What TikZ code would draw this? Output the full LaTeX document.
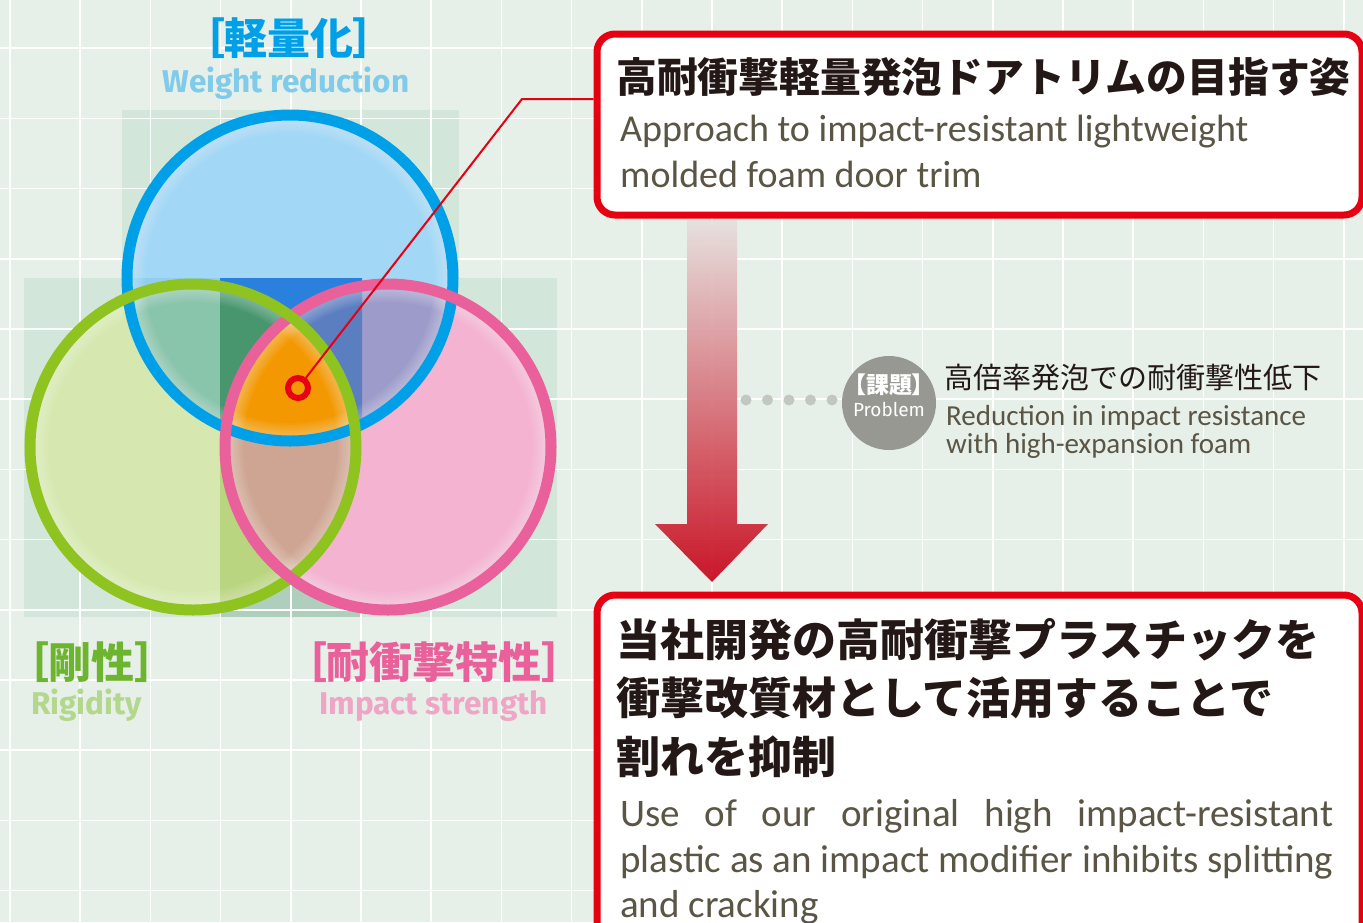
\documentclass[tikz,border=0pt]{standalone}
\usepackage{fontspec}
\usetikzlibrary{positioning}
\newfontfamily\jpfont{Noto Sans CJK JP}
\newfontfamily\jplabel{Noto Sans CJK JP}[RawFeature=+palt]
\newfontfamily\enbold{Fira Sans}
\newfontfamily\enlight{Carlito}

\definecolor{bgcol}{HTML}{E6F0E8}
\definecolor{boxcol}{HTML}{D3E6DA}
\definecolor{stripcol}{HTML}{AFCEBB}
\definecolor{blueA}{HTML}{A2D8F5}
\definecolor{blueB}{HTML}{90CEF0}
\definecolor{blueC}{HTML}{2A80DD}
\definecolor{greenA}{HTML}{D6E8B0}
\definecolor{greenB}{HTML}{B9D57F}
\definecolor{pinkA}{HTML}{F4B4D1}
\definecolor{tealA}{HTML}{88C5AA}
\definecolor{tealB}{HTML}{47966E}
\definecolor{violetA}{HTML}{9D9BCA}
\definecolor{violetB}{HTML}{5B7EC1}
\definecolor{brownA}{HTML}{CEA592}
\definecolor{orangeA}{HTML}{F39800}
\definecolor{ringblue}{HTML}{00A0E9}
\definecolor{ringgreen}{HTML}{8FC31F}
\definecolor{ringpink}{HTML}{E9609B}
\definecolor{markred}{HTML}{E60012}
\definecolor{txtdark}{HTML}{231815}
\definecolor{txtgray}{HTML}{5A5544}
\definecolor{dotgray}{HTML}{C3C7C1}
\definecolor{probgray}{HTML}{979892}
\definecolor{lblgreen}{HTML}{6DB52F}
\definecolor{subblue}{HTML}{80CBEA}
\definecolor{subgreen}{HTML}{B4D78E}
\definecolor{subpink}{HTML}{EFA5C6}
\definecolor{arrowtop}{HTML}{E6E0DE}
\definecolor{arrowmid}{HTML}{E07C84}
\definecolor{arrowbot}{HTML}{C8061A}

\begin{document}
\begin{tikzpicture}[x=1pt,y=-1pt,
    gridline/.style={draw=white,line width=1.6pt},
    ring/.style={line width=11pt},
    glow/.style={white,opacity=.05},
    framebox/.style={draw=markred,line width=7pt,fill=white,rounded corners=18pt,
      inner sep=0pt,anchor=north west,minimum width=765pt},
    jptitle/.style={inner sep=0pt,anchor=west,text=txtdark,
      font=\jpfont\bfseries\fontsize{44}{50}\selectfont},
    ensub/.style={inner sep=0pt,anchor=base west,text=txtgray,
      font=\enlight\fontsize{39}{44}\selectfont},
    circlabel/.style={inner sep=0pt,font=\jplabel\bfseries\fontsize{43}{47}\selectfont},
    circsub/.style={inner sep=0pt,anchor=base west,font=\enbold\bfseries\fontsize{31.5}{36}\selectfont},
  ]
\useasboundingbox (0,0) rectangle (1363,922);
\clip (0,0) rectangle (1363,922);
\fill[bgcol] (0,0) rectangle (1363,922);

% tinted squares behind the circles
\fill[boxcol] (122,110) rectangle (459,445);
\fill[boxcol] (24,278) rectangle (557,617);
\fill[stripcol] (220,278) rectangle (362,617);

% grid
\foreach \i in {0,...,19}
  \draw[gridline] ({10+70.2*\i},0) -- ({10+70.2*\i},922);
\foreach \j in {0,...,13}
  \draw[gridline] (0,{-22+70.2*\j}) -- (1363,{-22+70.2*\j});

\coordinate (cB) at (290,278);
\coordinate (cG) at (193,447);
\coordinate (cP) at (388,447);

% circle fills
\fill[blueA] (cB) circle[radius=163];
\begin{scope}
  \clip (24,278) rectangle (220,617);
  \fill[blueB] (cB) circle[radius=163];
\end{scope}
\fill[greenA] (cG) circle[radius=163];
\fill[pinkA] (cP) circle[radius=163];
\begin{scope}
  \clip (220,278) rectangle (362,617);
  \fill[blueC] (cB) circle[radius=163];
  \fill[greenB] (cG) circle[radius=163];
  \fill[pinkA] (cP) circle[radius=163];
\end{scope}
% overlaps
\begin{scope}
  \clip (cB) circle[radius=163];
  \fill[tealA] (cG) circle[radius=163];
  \fill[violetA] (cP) circle[radius=163];
  \clip (220,278) rectangle (362,617);
  \fill[tealB] (cG) circle[radius=163];
  \fill[violetB] (cP) circle[radius=163];
\end{scope}
\begin{scope}
  \clip (cG) circle[radius=163];
  \fill[brownA] (cP) circle[radius=163];
  \clip (cB) circle[radius=163];
  \fill[orangeA] (cP) circle[radius=163];
\end{scope}
% soft rims
\foreach \ctr in {cB,cG,cP}{
  \begin{scope}
    \clip (\ctr) circle[radius=163];
    \foreach \w in {2,4,...,18}
      \draw[glow,line width=\w pt] (\ctr) circle[radius={163-\w/2}];
  \end{scope}}

% rings
\draw[ring,ringblue] (cB) circle[radius=163];
\draw[ring,ringpink] (cP) circle[radius=163];
\draw[ring,ringgreen] (cG) circle[radius=163];
\begin{scope}
  \clip (240,540) rectangle (340,620);
  \draw[ring,ringpink] (cP) circle[radius=163];
\end{scope}

% circle labels
\node[circlabel,text=ringblue] (lblB) at (289,38) {［軽量化］};
\node[circsub,text=subblue,anchor=base] (subB) at (286,92) {Weight reduction};
\node[circlabel,text=lblgreen,anchor=west] (lblG) at (27,662) {［剛性］};
\node[circsub,text=subgreen] (subG) at (31,714) {Rigidity};
\node[circlabel,text=ringpink,anchor=west] (lblP) at (305,662) {［耐衝撃特性］};
\node[circsub,text=subpink] (subP) at (319,714) {Impact strength};

% goal box
\node[framebox,minimum height=181pt] (goal) at (593.5,30.5) {};
\node[jptitle,font=\jpfont\bfseries\fontsize{40.8}{46}\selectfont] (goaljp) at (616,77)
  {高耐衝撃軽量発泡ドアトリムの目指す姿};
\node[ensub,font=\enlight\fontsize{38}{42}\selectfont] (goalen1) at (620,141)
  {Approach to impact-resistant lightweight};
\node[ensub,font=\enlight\fontsize{38}{42}\selectfont] (goalen2) at (620,187)
  {molded foam door trim};

% marker and leader
\node[circle,draw=markred,line width=6pt,minimum size=20pt,inner sep=0pt] (target) at (298,388) {};
\coordinate (bend) at (522,99);
\draw[markred,line width=2pt] (target) -- (bend) -- (bend -| goal.west);

% arrow
\shade[top color=arrowtop,middle color=arrowmid,bottom color=arrowbot,opacity=.93]
  (687,220) -- (737,220) -- (737,524) -- (768,524) -- (712,582)
  -- (655,524) -- (687,524) -- cycle;

% problem
\foreach \i in {0,...,4}
  \fill[dotgray] ({746+21.5*\i},400) circle[radius=5.5];
\node[circle,fill=probgray,minimum size=94pt,inner sep=0pt] (prob) at (889,403) {};
\node[inner sep=0pt,text=white,font=\jplabel\bfseries\fontsize{23}{26}\selectfont] (probjp)
  at (889,385) {【課題】};
\node[inner sep=0pt,text=white,font=\enbold\fontsize{19}{22}\selectfont,below=6pt of probjp] (proben)
  {Problem};
\node[inner sep=0pt,anchor=west,text=txtdark,font=\jpfont\fontsize{29}{33}\selectfont] (issuejp)
  at (944,378) {高倍率発泡での耐衝撃性低下};
\node[ensub,font=\enlight\fontsize{29}{33}\selectfont] (issueen1) at (946,425)
  {Reduction in impact resistance};
\node[ensub,font=\enlight\fontsize{29}{33}\selectfont] (issueen2) at (946,453)
  {with high-expansion foam};

% result box
\node[framebox,minimum height=400pt] (result) at (593.5,591.5) {};
\node[jptitle] (resjp1) at (616,640) {当社開発の高耐衝撃プラスチックを};
\node[jptitle] (resjp2) at (616,698) {衝撃改質材として活用することで};
\node[jptitle] (resjp3) at (616,757) {割れを抑制};
\node[ensub] (resen1) at (620,826)
  {\makebox[713pt][s]{Use of our original high impact-resistant}};
\node[ensub] (resen2) at (620,872) {plastic as an impact modifier inhibits splitting};
\node[ensub] (resen3) at (620,917) {and cracking};
\end{tikzpicture}
\end{document}
